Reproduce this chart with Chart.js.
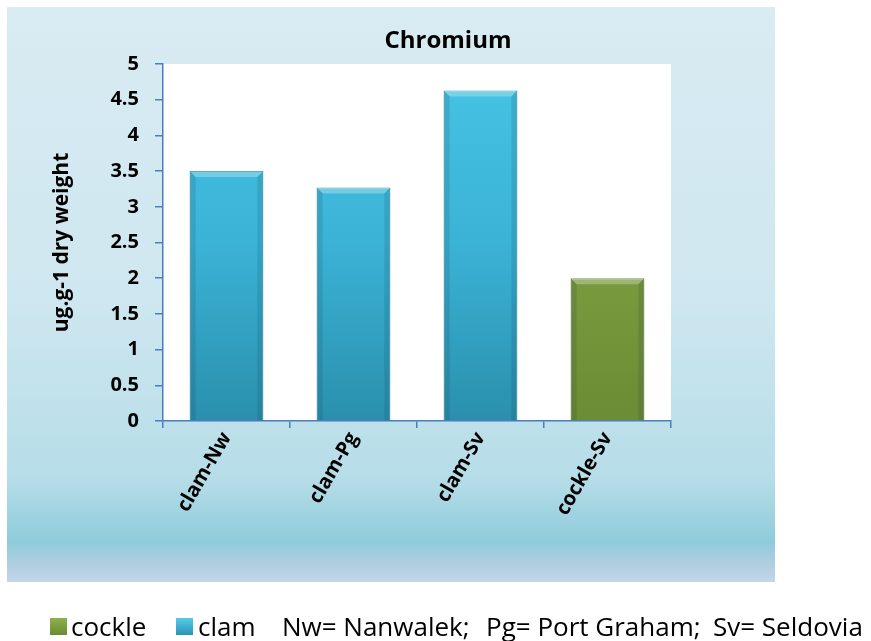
<!DOCTYPE html>
<html>
<head>
<meta charset="utf-8">
<script src="https://cdn.jsdelivr.net/npm/chart.js@4"></script>
<style>
  html, body { margin: 0; padding: 0; background: #fff; }
  #wrap { position: relative; width: 871px; height: 641px; }
  #legend span {
    position: absolute; top: 609px;
    font-family: "Open Sans", sans-serif;
    font-size: 26px; color: #000; white-space: pre; line-height: 34px;
  }
  #legend .box { top: 618px; width: 17px; height: 17px; }
</style>
</head>
<body>
<div id="wrap">
  <canvas id="chromiumChart" width="871" height="641"></canvas>
  <div id="legend">
    <span class="box" style="left:50px;background:linear-gradient(#8fb04a,#6b8b33)"></span>
    <span style="left:71px">cockle</span>
    <span class="box" style="left:176px;background:linear-gradient(#56cbe8,#2b94b3)"></span>
    <span style="left:198px">clam</span>
    <span style="left:282px">Nw= Nanwalek;</span>
    <span style="left:486px">Pg= Port Graham;</span>
    <span style="left:713px">Sv= Seldovia</span>
  </div>
</div>
<script>
const titleText = "Chromium";
const categories = ["clam-Nw", "clam-Pg", "clam-Sv", "cockle-Sv"];
const values = [3.5, 3.27, 4.63, 2.0];
const species = ["clam", "clam", "clam", "cockle"];
const yTicks = [0, 0.5, 1, 1.5, 2, 2.5, 3, 3.5, 4, 4.5, 5];

const axisBlue = "#4a7ebb";

// panel background, white plot area and title
const panelBg = {
  id: "panelBg",
  beforeDraw(chart) {
    const { ctx, chartArea } = chart;
    const g = ctx.createLinearGradient(0, 7, 0, 582);
    g.addColorStop(0, "#d9ebf3");
    g.addColorStop(0.5, "#cfe7f0");
    g.addColorStop(0.82, "#b6dde8");
    g.addColorStop(0.93, "#8fcbdb");
    g.addColorStop(0.97, "#b0cfe1");
    g.addColorStop(1, "#c3d6ea");
    ctx.save();
    ctx.fillStyle = g;
    ctx.fillRect(7, 7, 768, 575);
    ctx.fillStyle = "#ffffff";
    ctx.fillRect(chartArea.left, chartArea.top, chartArea.right - chartArea.left, chartArea.bottom - chartArea.top);
    ctx.fillStyle = "#000";
    ctx.font = "bold 24px 'Open Sans'";
    ctx.textAlign = "center";
    ctx.textBaseline = "middle";
    ctx.fillText(titleText, 448, 41);
    ctx.restore();
  }
};

// bevel look on the bars
const bevel = {
  id: "bevel",
  afterDatasetsDraw(chart) {
    const { ctx } = chart;
    const meta = chart.getDatasetMeta(0);
    ctx.save();
    meta.data.forEach((bar) => {
      const l = bar.x - bar.width / 2, r = bar.x + bar.width / 2;
      const t = bar.y, b = bar.base, s = 6;
      ctx.fillStyle = "rgba(255,255,255,0.28)";
      ctx.beginPath();
      ctx.moveTo(l, t); ctx.lineTo(r, t); ctx.lineTo(r - s, t + s); ctx.lineTo(l + s, t + s);
      ctx.closePath(); ctx.fill();
      ctx.fillStyle = "rgba(0,40,60,0.12)";
      ctx.beginPath();
      ctx.moveTo(l, t); ctx.lineTo(l + s, t + s); ctx.lineTo(l + s, b); ctx.lineTo(l, b);
      ctx.closePath(); ctx.fill();
      ctx.beginPath();
      ctx.moveTo(r, t); ctx.lineTo(r - s, t + s); ctx.lineTo(r - s, b); ctx.lineTo(r, b);
      ctx.closePath(); ctx.fill();
    });
    ctx.restore();
  }
};

function barFill(context) {
  const chart = context.chart;
  const area = chart.chartArea;
  if (!area) return "#3bb5d8";
  const kind = species[context.dataIndex];
  const g = chart.ctx.createLinearGradient(0, area.top, 0, area.bottom);
  if (kind === "cockle") {
    g.addColorStop(0, "#8dae48");
    g.addColorStop(1, "#6c8c35");
  } else {
    g.addColorStop(0, "#46c3e4");
    g.addColorStop(0.5, "#3bb3d6");
    g.addColorStop(1, "#2a8fad");
  }
  return g;
}

const ctx = document.getElementById("chromiumChart").getContext("2d");
const chromiumChart = new Chart(ctx, {
  type: "bar",
  data: {
    labels: categories,
    datasets: [
      {
        label: titleText,
        data: values,
        backgroundColor: barFill,
        borderColor: (c) => species[c.dataIndex] === "cockle" ? "#5d7a2c" : "#2a8aa8",
        borderWidth: 1,
        borderSkipped: "bottom",
        barPercentage: 0.58,
        categoryPercentage: 1,
      },
    ],
  },
  options: {
    responsive: false,
    animation: false,
    layout: { padding: { top: 64, right: 200, bottom: 0, left: 0 } },
    plugins: {
      legend: { display: false },
      tooltip: { enabled: false },
      title: { display: false },
    },
    scales: {
      x: {
        offset: true,
        grid: {
          offset: true,
          drawOnChartArea: false,
          drawTicks: true,
          tickLength: 7,
          color: axisBlue,
          lineWidth: 1.5,
        },
        border: { color: axisBlue, width: 1.5 },
        ticks: {
          minRotation: 60,
          maxRotation: 60,
          padding: 0,
          color: "#000",
          font: { family: "Open Sans", size: 20, weight: "bold" },
        },
        afterFit(scale) { scale.height = 220; },
      },
      y: {
        min: 0,
        max: 5,
        afterBuildTicks(scale) { scale.ticks = yTicks.map((v) => ({ value: v })); },
        grid: {
          drawOnChartArea: false,
          drawTicks: true,
          tickLength: 8,
          color: axisBlue,
          lineWidth: 1.5,
        },
        border: { color: axisBlue, width: 1.5 },
        ticks: {
          padding: 16,
          color: "#000",
          font: { family: "Open Sans", size: 20, weight: "bold" },
          callback: (v) => String(v),
        },
        title: {
          display: true,
          text: "ug.g-1 dry weight",
          color: "#000",
          font: { family: "Open Sans", size: 21, weight: "bold" },
          padding: { top: 49, bottom: 0 },
        },
        afterFit(scale) { scale.width = 163; },
      },
    },
  },
  plugins: [panelBg, bevel],
});
</script>
</body>
</html>
